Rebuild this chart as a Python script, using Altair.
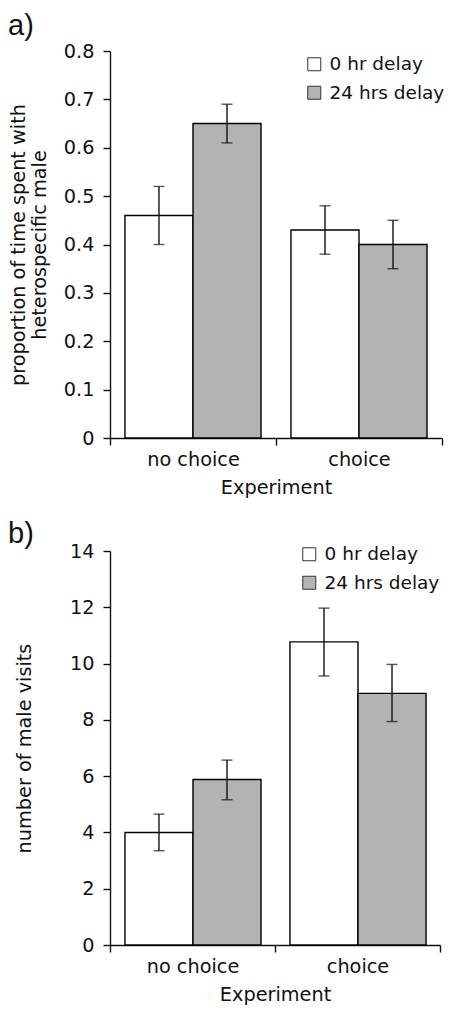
import altair as alt
import pandas as pd

experiments = ["no choice", "choice"]
delays = ["0 hr delay", "24 hrs delay"]

# panel a: proportion of time spent with heterospecific male
prop_mean = [0.46, 0.65, 0.43, 0.40]
prop_lo = [0.40, 0.61, 0.38, 0.35]
prop_hi = [0.52, 0.69, 0.48, 0.45]

# panel b: number of male visits
visits_mean = [4.0, 5.88, 10.77, 8.94]
visits_lo = [3.35, 5.16, 9.56, 7.94]
visits_hi = [4.65, 6.57, 11.97, 9.97]

exp_col = [e for e in experiments for _ in delays]
del_col = [d for _ in experiments for d in delays]

df_a = pd.DataFrame({"experiment": exp_col, "delay": del_col,
                     "mean": prop_mean, "lo": prop_lo, "hi": prop_hi})
df_b = pd.DataFrame({"experiment": exp_col, "delay": del_col,
                     "mean": visits_mean, "lo": visits_lo, "hi": visits_hi})

FONT = "DejaVu Sans"
FS = 19.3


def panel(df, letter, ytitle, ymax, w, h, pad_out, title_pad, lx, ly, tag_y, yvals, fmt):
    x = alt.X("experiment:N", sort=experiments,
              scale=alt.Scale(paddingInner=0, paddingOuter=0),
              axis=alt.Axis(title="Experiment", tickBand="extent", labelAngle=0,
                            labelPadding=5, titlePadding=9))
    xo = alt.XOffset("delay:N", sort=delays,
                     scale=alt.Scale(paddingInner=0, paddingOuter=pad_out))
    y = alt.Y("mean:Q", scale=alt.Scale(domain=[0, ymax], nice=False),
              axis=alt.Axis(title=ytitle, values=yvals, format=fmt,
                            titlePadding=title_pad, labelPadding=9))
    base = alt.Chart(df)
    bars = base.mark_bar(stroke="black", strokeWidth=1.4).encode(
        x=x, xOffset=xo, y=y,
        fill=alt.Fill("delay:N", sort=delays,
                      scale=alt.Scale(domain=delays, range=["white", "#b3b3b3"]),
                      legend=alt.Legend(title=None, orient="none", legendX=lx, legendY=ly,
                                        symbolType="square", symbolSize=169,
                                        symbolStrokeColor="#333", symbolStrokeWidth=1,
                                        labelFont=FONT, labelFontSize=18.5, labelColor="#111",
                                        rowPadding=9.5, labelOffset=6)),
    )
    err = base.mark_rule(color="#111", strokeWidth=1.4).encode(
        x=x, xOffset=xo, y="lo:Q", y2="hi:Q")
    cap_lo = base.mark_tick(color="#111", thickness=1.4, size=11, orient="horizontal").encode(
        x=x, xOffset=xo, y="lo:Q")
    cap_hi = base.mark_tick(color="#111", thickness=1.4, size=11, orient="horizontal").encode(
        x=x, xOffset=xo, y="hi:Q")
    tag = alt.Chart(pd.DataFrame({"tag": [letter]})).mark_text(
        font="Liberation Sans", fontSize=29, color="#111", align="left", baseline="alphabetic"
    ).encode(text="tag:N", x=alt.value(-102), y=alt.value(tag_y))
    return alt.layer(bars, err, cap_lo, cap_hi, tag).properties(width=w, height=h)


pa = panel(df_a, "a)", ["proportion of time spent with", "heterospecific male"],
           0.8, 332, 387, 0.22, 14, 195, 4, -16,
           [0, 0.1, 0.2, 0.3, 0.4, 0.5, 0.6, 0.7, 0.8], "~g")
pb = panel(df_b, "b)", "number of male visits",
           14, 330, 394, 0.25, 35, 190, -6, -8,
           [0, 2, 4, 6, 8, 10, 12, 14], "d")

chart = alt.vconcat(pa, pb, spacing=22).resolve_scale(fill="independent").properties(
    padding={"left": 0, "top": 4, "right": 0, "bottom": 0}
).configure_view(
    stroke=None
).configure_axis(
    labelFont=FONT, titleFont=FONT, labelFontSize=FS, titleFontSize=FS,
    titleFontWeight="normal", labelColor="#111", titleColor="#111",
    domainColor="#111", tickColor="#111", domainWidth=1.4, tickWidth=1.4,
    tickSize=7, grid=False, titleLineHeight=21
)

chart.save("out.html", embed_options={"renderer": "svg", "actions": False})
